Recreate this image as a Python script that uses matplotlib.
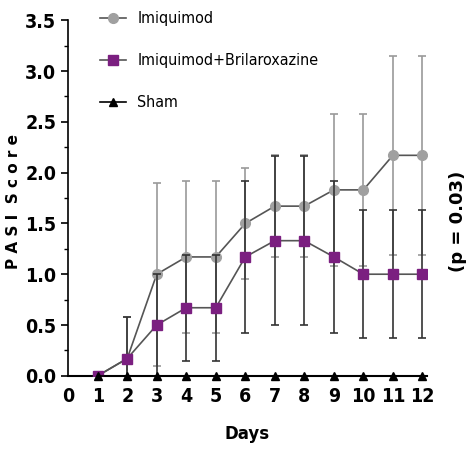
import matplotlib
matplotlib.use("Agg")
import matplotlib.pyplot as plt
from matplotlib.ticker import MultipleLocator
from matplotlib.lines import Line2D

# PASI score per day (mean +/- SD)
days = [1, 2, 3, 4, 5, 6, 7, 8, 9, 10, 11, 12]
imiquimod = [0, 0.17, 1.0, 1.17, 1.17, 1.5, 1.67, 1.67, 1.83, 1.83, 2.17, 2.17]
imiquimod_sd = [0, 0.41, 0.9, 0.75, 0.75, 0.55, 0.5, 0.5, 0.75, 0.75, 0.98, 0.98]
bril = [0, 0.17, 0.5, 0.67, 0.67, 1.17, 1.33, 1.33, 1.17, 1.0, 1.0, 1.0]
bril_sd = [0, 0.41, 0.5, 0.52, 0.52, 0.75, 0.83, 0.83, 0.75, 0.63, 0.63, 0.63]
sham = [0] * 12
labels = ['Imiquimod', 'Imiquimod+Brilaroxazine', 'Sham']

fig = plt.figure(figsize=(4.67, 4.49), dpi=100)
ax = fig.add_axes([0.146, 0.163, 0.768, 0.792])

ax.errorbar(days, imiquimod, yerr=imiquimod_sd, color='#555555', ecolor='#9a9a9a',
            elinewidth=1.2, capsize=3, capthick=1.2, lw=1.2,
            marker='o', ms=7, mfc='#a0a0a0', mec='#a0a0a0', zorder=3)
ax.errorbar(days, bril, yerr=bril_sd, color='#555555', ecolor='#333333',
            elinewidth=1.2, capsize=3, capthick=1.2, lw=1.2,
            marker='s', ms=7, mfc='#7b1f80', mec='#7b1f80', zorder=4)
ax.plot(days, sham, color='black', lw=1.2, marker='^', ms=6,
        clip_on=False, zorder=5)

ax.set_xlim(0, 12.15)
ax.set_ylim(0, 3.5)
ax.set_xticks(range(0, 13))
ax.yaxis.set_major_locator(MultipleLocator(0.5))
ax.yaxis.set_minor_locator(MultipleLocator(0.25))
ax.set_yticklabels([f'{v:.1f}' for v in ax.get_yticks()])

for s in ['top', 'right']:
    ax.spines[s].set_visible(False)
ax.spines['left'].set_linewidth(1.2)
ax.spines['bottom'].set_linewidth(1.5)

ax.tick_params(axis='x', length=0, pad=8)
ax.tick_params(axis='y', which='major', length=5, width=1.2)
ax.tick_params(axis='y', which='minor', length=3, width=1)
for lab in ax.get_xticklabels() + ax.get_yticklabels():
    lab.set_family('DejaVu Sans')
    lab.set_stretch('condensed')
    lab.set_fontweight('bold')
    lab.set_fontsize(14)

ax.set_xlabel('Days', fontsize=12, fontweight='bold', labelpad=14)
fig.text(0.028, 0.552, 'P A S I  S c o r e', rotation=90, ha='center', va='center',
         fontsize=11, fontweight='bold')
fig.text(0.980, 0.506, '(p = 0.03)', rotation=90, ha='center', va='center',
         fontsize=13, fontweight='bold')

handles = [
    Line2D([], [], color='#555555', lw=1.2, marker='o', ms=7, mfc='#a0a0a0', mec='#a0a0a0'),
    Line2D([], [], color='#555555', lw=1.2, marker='s', ms=7, mfc='#7b1f80', mec='#7b1f80'),
    Line2D([], [], color='black', lw=1.2, marker='^', ms=6),
]
ax.legend(handles, labels, loc='upper left', bbox_to_anchor=(0.05, 1.066), frameon=False,
          prop={'family': 'DejaVu Sans', 'stretch': 'condensed', 'size': 11.5},
          labelspacing=1.7, handlelength=1.6, handletextpad=0.7)

fig.savefig('out.png', dpi=100)
